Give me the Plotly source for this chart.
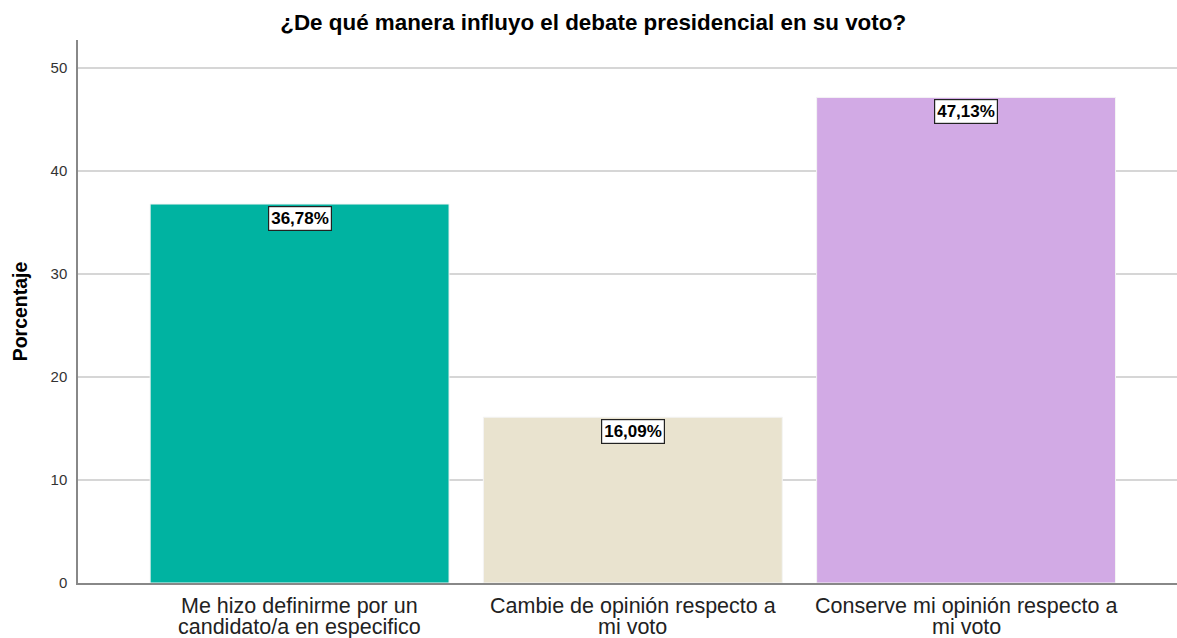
import plotly.graph_objects as go

categories = [
    "Me hizo definirme por un<br>candidato/a en especifico",
    "Cambie de opinión respecto a<br>mi voto",
    "Conserve mi opinión respecto a<br>mi voto",
]
percentages = [36.78, 16.09, 47.13]
bar_colors = ["#00B3A1", "#E9E3CF", "#D2AAE5"]
y_ticks = [0, 10, 20, 30, 40, 50]

FONT = "Liberation Sans, Arial, sans-serif"

fig = go.Figure(
    go.Bar(
        x=list(range(len(categories))),
        y=percentages,
        marker=dict(color=bar_colors, line=dict(color="#F4F4F4", width=1)),
        width=0.897,
        hoverinfo="skip",
    )
)

# value labels in boxed text just under each bar top
for i, v in enumerate(percentages):
    fig.add_annotation(
        x=i, y=v, xref="x", yref="y",
        text="<b>" + f"{v:.2f}".replace(".", ",") + "%</b>",
        showarrow=False, yanchor="top", yshift=-2,
        font=dict(family=FONT, size=17, color="black"),
        bgcolor="white", bordercolor="#222", borderwidth=1.2, borderpad=2,
    )

# category labels, two tightly spaced lines under each bar
for i, cat in enumerate(categories):
    for j, line in enumerate(cat.split("<br>")):
        fig.add_annotation(
            x=i, y=0, xref="x", yref="paper",
            text=line, showarrow=False,
            yanchor="middle", yshift=-23 - 21 * j,
            font=dict(family=FONT, size=21.5, color="#222"),
        )

fig.update_layout(
    width=1177, height=638,
    margin=dict(l=78, r=0, t=40, b=55),
    paper_bgcolor="white", plot_bgcolor="white",
    showlegend=False,
    font=dict(family=FONT, color="#222"),
    title=dict(
        text="<b>¿De qué manera influyo el debate presidencial en su voto?</b>",
        x=0.504, xanchor="center", y=0.965, yanchor="middle",
        font=dict(family=FONT, size=22.4, color="black"),
    ),
    xaxis=dict(
        range=[-0.665, 2.633],
        tickmode="array", tickvals=list(range(len(categories))),
        showticklabels=False,
        showgrid=False, showline=True, linecolor="#888", linewidth=1.5,
        ticks="", layer="below traces",
        fixedrange=True,
    ),
    yaxis=dict(
        range=[0, 52.7],
        tickmode="array", tickvals=y_ticks,
        showgrid=True, gridcolor="#D6D6D6", gridwidth=2,
        zeroline=False,
        showline=True, linecolor="#888", linewidth=1.5,
        ticks="", ticklabelstandoff=6,
        tickfont=dict(family=FONT, size=15, color="#333"),
        title=dict(text="<b>Porcentaje</b>", standoff=18,
                   font=dict(family=FONT, size=19.5, color="black")),
        layer="below traces",
        fixedrange=True,
    ),
)

fig.write_html("out.html")
